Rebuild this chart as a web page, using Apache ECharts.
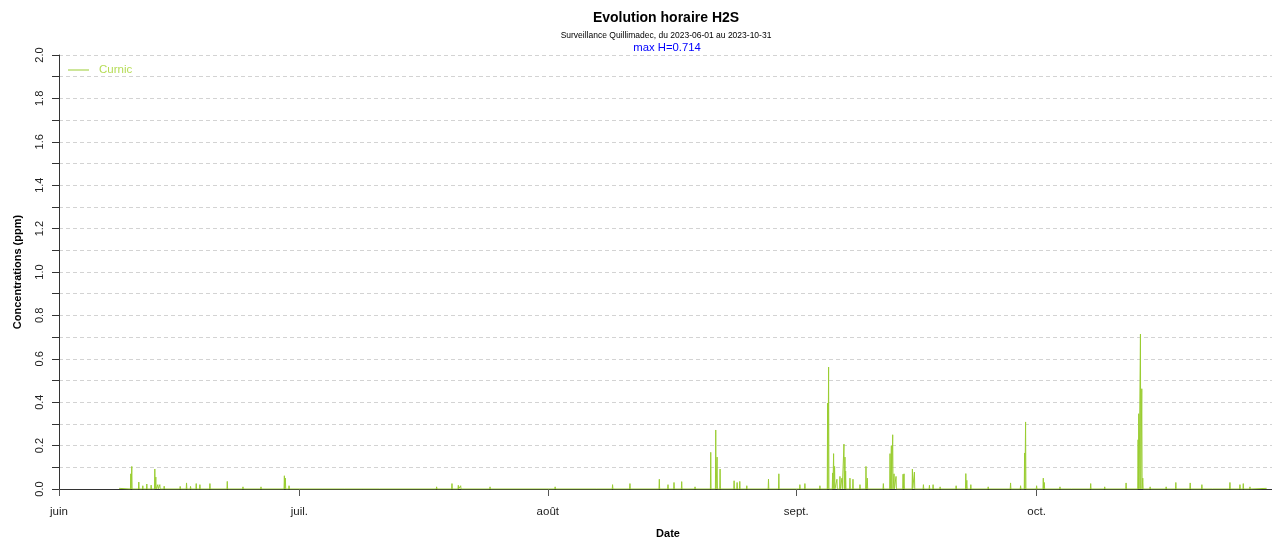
<!DOCTYPE html>
<html>
<head>
<meta charset="utf-8">
<title>Evolution horaire H2S</title>
<script src="https://cdn.jsdelivr.net/npm/echarts@6/dist/echarts.min.js"></script>
<style>
  html, body { margin: 0; padding: 0; background: #fff; overflow: hidden; }
  #chart { width: 1272px; height: 538px; }
</style>
</head>
<body>
<div id="chart"></div>
<script>
var seriesName = 'Curnic'
// hourly readings (only the non-zero hours)
var spikeTimes = [
  '2023-06-08 12', '2023-06-09 23', '2023-06-10 02', '2023-06-10 23', '2023-06-11 11', '2023-06-11 23',
  '2023-06-12 12', '2023-06-12 23', '2023-06-13 02', '2023-06-13 08', '2023-06-13 14', '2023-06-14 03',
  '2023-06-16 03', '2023-06-16 22', '2023-06-17 10', '2023-06-18 03', '2023-06-18 14', '2023-06-19 20',
  '2023-06-22 00', '2023-06-23 23', '2023-06-26 05', '2023-06-29 03', '2023-06-29 06', '2023-06-29 17',
  '2023-07-03 21', '2023-07-06 17', '2023-07-11 01', '2023-07-18 03', '2023-07-20 01', '2023-07-20 20',
  '2023-07-21 03', '2023-07-24 19',
  '2023-08-01 22', '2023-08-07 02', '2023-08-09 02', '2023-08-11 06', '2023-08-14 22', '2023-08-16 00',
  '2023-08-16 18', '2023-08-17 17', '2023-08-19 09', '2023-08-21 08', '2023-08-21 23', '2023-08-22 03',
  '2023-08-22 12', '2023-08-24 06', '2023-08-24 15', '2023-08-24 23', '2023-08-25 20', '2023-08-28 13',
  '2023-08-29 20',
  '2023-09-01 11', '2023-09-02 02', '2023-09-03 23', '2023-09-04 22', '2023-09-05 01', '2023-09-05 13',
  '2023-09-05 16', '2023-09-05 19', '2023-09-06 02', '2023-09-06 11', '2023-09-06 17', '2023-09-06 23',
  '2023-09-07 02', '2023-09-07 04', '2023-09-07 17', '2023-09-08 02', '2023-09-08 23', '2023-09-09 17',
  '2023-09-09 21', '2023-09-11 21', '2023-09-12 17', '2023-09-12 21', '2023-09-13 01', '2023-09-13 05',
  '2023-09-13 11', '2023-09-14 08', '2023-09-14 11', '2023-09-15 12', '2023-09-15 18', '2023-09-16 21',
  '2023-09-17 15', '2023-09-18 02', '2023-09-18 23', '2023-09-20 23', '2023-09-22 04', '2023-09-22 07',
  '2023-09-22 19', '2023-09-24 23', '2023-09-27 18', '2023-09-29 00', '2023-09-29 12', '2023-09-29 15',
  '2023-10-01 00', '2023-10-01 20', '2023-10-01 23', '2023-10-03 22', '2023-10-05 10', '2023-10-07 18',
  '2023-10-09 12', '2023-10-12 04', '2023-10-13 16', '2023-10-13 18', '2023-10-13 23', '2023-10-14 03',
  '2023-10-14 06', '2023-10-15 04', '2023-10-17 04', '2023-10-18 09', '2023-10-20 04', '2023-10-21 15',
  '2023-10-23 00', '2023-10-25 03', '2023-10-26 09', '2023-10-26 19', '2023-10-27 15', '2023-10-29 17'
]
var spikeValues = [
  0.003, 0.070, 0.104, 0.032, 0.015, 0.023,
  0.018, 0.092, 0.055, 0.020, 0.020, 0.013,
  0.012, 0.028, 0.012, 0.025, 0.020, 0.025,
  0.035, 0.010, 0.010, 0.061, 0.050, 0.015,
  0.008, 0.005, 0.008, 0.010, 0.025, 0.017,
  0.015, 0.010,
  0.010, 0.005, 0.020, 0.025, 0.045, 0.020,
  0.030, 0.034, 0.010, 0.169, 0.272, 0.147,
  0.092, 0.038, 0.030, 0.035, 0.015, 0.046,
  0.070,
  0.020, 0.025, 0.015, 0.396, 0.562, 0.074,
  0.163, 0.104, 0.045, 0.058, 0.050, 0.207,
  0.147, 0.083, 0.050, 0.045, 0.020, 0.104,
  0.050, 0.025, 0.163, 0.200, 0.250, 0.070,
  0.058, 0.068, 0.070, 0.092, 0.078, 0.020,
  0.017, 0.020, 0.010, 0.015, 0.071, 0.040,
  0.020, 0.010, 0.028, 0.015, 0.166, 0.309,
  0.015, 0.050, 0.030, 0.010, 0.008, 0.025,
  0.010, 0.028, 0.227, 0.347, 0.714, 0.462,
  0.050, 0.010, 0.010, 0.030, 0.028, 0.020,
  0.005, 0.030, 0.020, 0.025, 0.010, 0.003
]
var monthStarts = ['2023-06-01 00', '2023-07-01 00', '2023-08-01 00', '2023-09-01 00', '2023-10-01 00']
var monthLabels = ['juin', 'juil.', 'août', 'sept.', 'oct.']
var periodStart = '2023-06-01 00'
var periodEnd = '2023-10-31 00'

var HOUR = 3600 * 1000
var font = '"Liberation Sans", Arial, Helvetica, sans-serif'

function toTime(s) {
  var p = s.split(/[- ]/)
  return new Date(+p[0], +p[1] - 1, +p[2], +(p[3] || 0)).getTime()
}

// hours around a reading that are not listed sit at zero
var hourly = {}
spikeTimes.forEach(function (t, i) { hourly[toTime(t)] = spikeValues[i] })
spikeTimes.forEach(function (t, i) {
  if (i === 0 || i === spikeTimes.length - 1) return
  var k = toTime(t)
  if (!((k - HOUR) in hourly)) hourly[k - HOUR] = 0
  if (!((k + HOUR) in hourly)) hourly[k + HOUR] = 0
})
var lineData = Object.keys(hourly).map(Number).sort(function (a, b) { return a - b })
  .map(function (k) { return [k, hourly[k]] })

var monthTimes = monthStarts.map(toTime)
var maxValue = Math.max.apply(null, spikeValues)

var chart = echarts.init(document.getElementById('chart'), null, { width: 1272, height: 538 })
var option = {
  animation: false,
  backgroundColor: '#fff',
  textStyle: { fontFamily: font },
  grid: { left: 59, right: -5, top: 55, bottom: 49, outerBoundsMode: 'none', containLabel: false },
  graphic: [
    { type: 'text', x: 666, y: 18, style: { text: 'Evolution horaire H2S', font: 'bold 14px ' + font, fill: '#000', align: 'center', verticalAlign: 'middle' } },
    { type: 'text', x: 666, y: 36, style: { text: 'Surveillance Quillimadec, du 2023-06-01 au 2023-10-31', font: '8.5px ' + font, fill: '#000', align: 'center', verticalAlign: 'middle' } },
    { type: 'text', x: 667, y: 48, style: { text: 'max H=' + maxValue, font: '11.3px ' + font, fill: '#0000ff', align: 'center', verticalAlign: 'middle' } }
  ],
  legend: {
    left: 63,
    top: 59,
    icon: 'rect',
    itemWidth: 21,
    itemHeight: 1,
    textStyle: { color: '#b5dc55', fontSize: 11.5, fontFamily: font, padding: [0, 0, 0, 5] },
    data: [seriesName]
  },
  xAxis: [
    {
      type: 'value',
      min: toTime(periodStart),
      max: toTime(periodEnd),
      name: 'Date',
      nameLocation: 'middle',
      nameGap: 39,
      nameTextStyle: { fontWeight: 'bold', fontSize: 11, color: '#000', fontFamily: font },
      axisLine: { show: true, onZero: false, lineStyle: { color: '#000', width: 1 } },
      axisTick: { show: true, length: 7, customValues: monthTimes, lineStyle: { color: '#555' } },
      axisLabel: {
        customValues: monthTimes,
        margin: 17,
        fontSize: 11.5,
        color: '#222',
        fontFamily: font,
        formatter: function (v) {
          var best = 0
          monthTimes.forEach(function (m, i) { if (Math.abs(m - v) < Math.abs(monthTimes[best] - v)) best = i })
          return monthLabels[best]
        }
      },
      splitLine: { show: false }
    },
    {
      type: 'value',
      position: 'top',
      axisLine: { show: true, lineStyle: { color: '#333', width: 1 } },
      axisTick: { show: false },
      axisLabel: { show: false },
      splitLine: { show: false }
    }
  ],
  yAxis: {
    type: 'value',
    min: 0,
    max: 2,
    interval: 0.1,
    name: 'Concentrations (ppm)',
    nameLocation: 'middle',
    nameGap: 36,
    nameTextStyle: { fontWeight: 'bold', fontSize: 11, color: '#000', fontFamily: font },
    axisLine: { show: true, lineStyle: { color: '#333', width: 1 } },
    axisTick: { show: true, length: 7, lineStyle: { color: '#333' } },
    axisLabel: {
      rotate: 90,
      margin: 14,
      fontSize: 11,
      color: '#222',
      fontFamily: font,
      formatter: function (v) {
        return Math.round(v * 10) % 2 === 0 ? v.toFixed(1) : ''
      }
    },
    splitLine: { show: true, lineStyle: { color: '#d3d3d3', type: [4, 3], width: 1 } }
  },
  series: [
    {
      name: seriesName,
      type: 'line',
      xAxisIndex: 0,
      data: lineData,
      showSymbol: false,
      symbol: 'none',
      lineStyle: { color: '#9acd32', width: 1 },
      itemStyle: { color: '#9acd32' },
      z: 3
    }
  ]
}
chart.setOption(option)
</script>
</body>
</html>
